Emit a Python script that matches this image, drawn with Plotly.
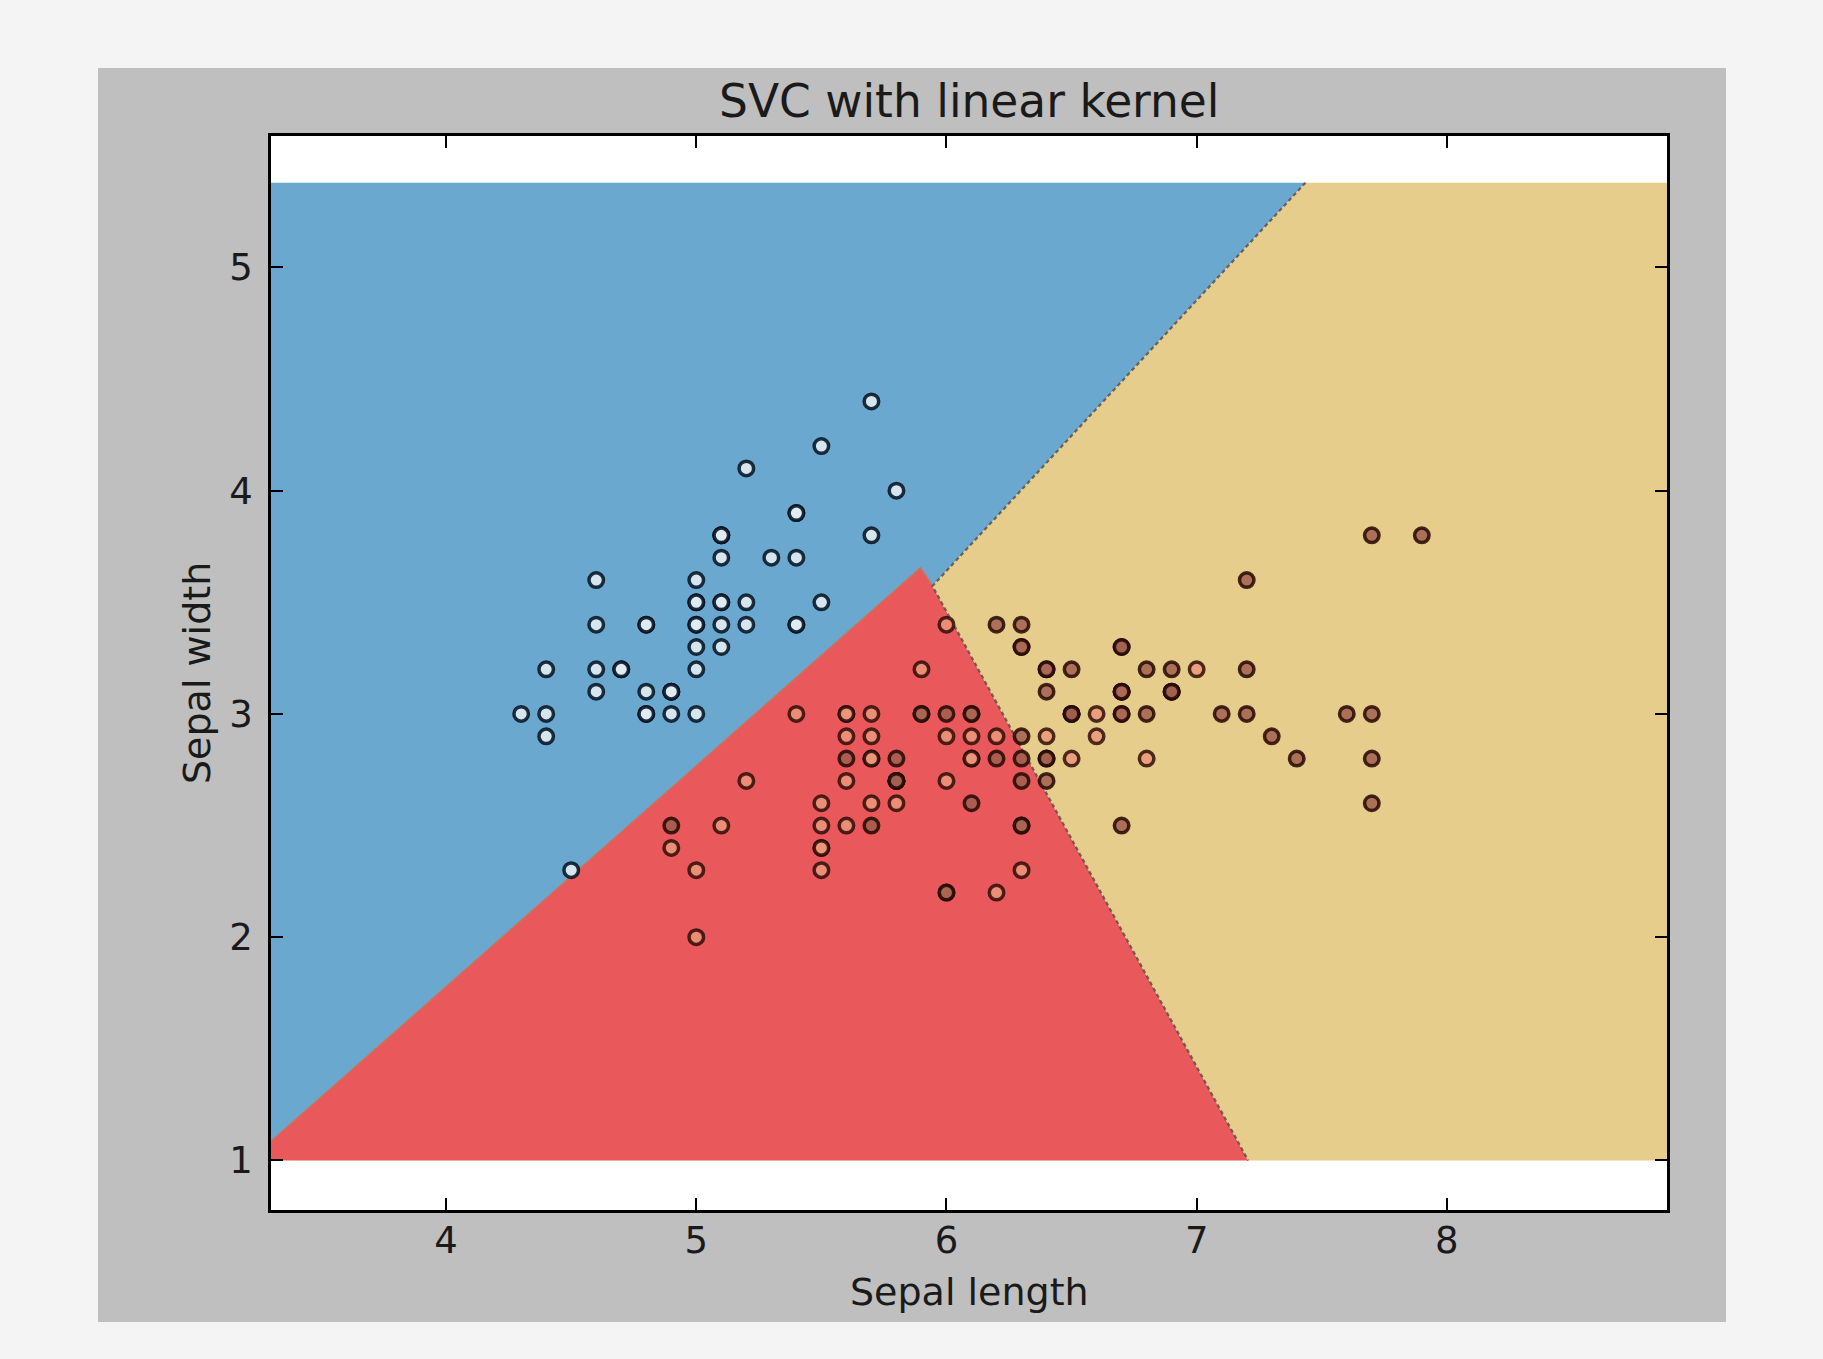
import plotly.graph_objects as go

# ---- Iris measurements (sepal length, sepal width) per species ----
setosa_length = [5.1, 4.9, 4.7, 4.6, 5.0, 5.4, 4.6, 5.0, 4.4, 4.9, 5.4, 4.8, 4.8, 4.3, 5.8,
                 5.7, 5.4, 5.1, 5.7, 5.1, 5.4, 5.1, 4.6, 5.1, 4.8, 5.0, 5.0, 5.2, 5.2, 4.7,
                 4.8, 5.4, 5.2, 5.5, 4.9, 5.0, 5.5, 4.9, 4.4, 5.1, 5.0, 4.5, 4.4, 5.0, 5.1,
                 4.8, 5.1, 4.6, 5.3, 5.0]
setosa_width = [3.5, 3.0, 3.2, 3.1, 3.6, 3.9, 3.4, 3.4, 2.9, 3.1, 3.7, 3.4, 3.0, 3.0, 4.0,
                4.4, 3.9, 3.5, 3.8, 3.8, 3.4, 3.7, 3.6, 3.3, 3.4, 3.0, 3.4, 3.5, 3.4, 3.2,
                3.1, 3.4, 4.1, 4.2, 3.1, 3.2, 3.5, 3.1, 3.0, 3.4, 3.5, 2.3, 3.2, 3.5, 3.8,
                3.0, 3.8, 3.2, 3.7, 3.3]

versicolor_length = [7.0, 6.4, 6.9, 5.5, 6.5, 5.7, 6.3, 4.9, 6.6, 5.2, 5.0, 5.9, 6.0, 6.1, 5.6,
                     6.7, 5.6, 5.8, 6.2, 5.6, 5.9, 6.1, 6.3, 6.1, 6.4, 6.6, 6.8, 6.7, 6.0, 5.7,
                     5.5, 5.5, 5.8, 6.0, 5.4, 6.0, 6.7, 6.3, 5.6, 5.5, 5.5, 6.1, 5.8, 5.0, 5.6,
                     5.7, 5.7, 6.2, 5.1, 5.7]
versicolor_width = [3.2, 3.2, 3.1, 2.3, 2.8, 2.8, 3.3, 2.4, 2.9, 2.7, 2.0, 3.0, 2.2, 2.9, 2.9,
                    3.1, 3.0, 2.7, 2.2, 2.5, 3.2, 2.8, 2.5, 2.8, 2.9, 3.0, 2.8, 3.0, 2.9, 2.6,
                    2.4, 2.4, 2.7, 2.7, 3.0, 3.4, 3.1, 2.3, 3.0, 2.5, 2.6, 3.0, 2.6, 2.3, 2.7,
                    3.0, 2.9, 2.9, 2.5, 2.8]

virginica_length = [6.3, 5.8, 7.1, 6.3, 6.5, 7.6, 4.9, 7.3, 6.7, 7.2, 6.5, 6.4, 6.8, 5.7, 5.8,
                    6.4, 6.5, 7.7, 7.7, 6.0, 6.9, 5.6, 7.7, 6.3, 6.7, 7.2, 6.2, 6.1, 6.4, 7.2,
                    7.4, 7.9, 6.4, 6.3, 6.1, 7.7, 6.3, 6.4, 6.0, 6.9, 6.7, 6.9, 5.8, 6.8, 6.7,
                    6.7, 6.3, 6.5, 6.2, 5.9]
virginica_width = [3.3, 2.7, 3.0, 2.9, 3.0, 3.0, 2.5, 2.9, 2.5, 3.6, 3.2, 2.7, 3.0, 2.5, 2.8,
                   3.2, 3.0, 3.8, 2.6, 2.2, 3.2, 2.8, 2.8, 2.7, 3.3, 3.2, 2.8, 3.0, 2.8, 3.0,
                   2.8, 3.8, 2.8, 2.8, 2.6, 3.0, 3.4, 3.1, 3.0, 3.1, 3.1, 3.1, 2.7, 3.2, 3.3,
                   3.0, 2.5, 3.0, 3.4, 3.0]

# ---- Mesh extent and decision-region vertices (data units) ----
mesh_x = [3.3, 8.88]
mesh_y = [1.0, 5.38]
left_cut_y = 1.085            # setosa / versicolor boundary at the left edge
apex = (5.896, 3.653)         # tip of the versicolor region
junction = (5.944, 3.573)     # meeting point of the three regions
top_cut_x = 7.435             # setosa / virginica boundary at the top edge
bottom_cut_x = 7.206          # versicolor / virginica boundary at the bottom edge

x_ticks = [4, 5, 6, 7, 8]
y_ticks = [1, 2, 3, 4, 5]
x_range = [3.3, 8.88]
y_range = [0.778, 5.589]

title_text = "SVC with linear kernel"
x_title = "Sepal length"
y_title = "Sepal width"

# ---- Styling ----
W, H = 1823, 1359
ML, MR, MT, MB = 271, 156, 136, 149
FONT = "DejaVu Sans"
TEXT_COLOR = "#1a1a1a"
OUTER_BG = "#f4f4f4"
FIG_BG = "#bfbfbf"
BLUE, RED, SAND = "#6ba8cf", "#e9585a", "#e6cd8b"

x0, x1 = mesh_x
y0, y1 = mesh_y

regions = [
    (BLUE, [x0, apex[0], junction[0], top_cut_x, x0, x0],
           [left_cut_y, apex[1], junction[1], y1, y1, left_cut_y]),
    (RED, [x0, x0, apex[0], junction[0], bottom_cut_x, x0],
          [y0, left_cut_y, apex[1], junction[1], y0, y0]),
    (SAND, [junction[0], top_cut_x, x1, x1, bottom_cut_x, junction[0]],
           [junction[1], y1, y1, y0, y0, junction[1]]),
]

fig = go.Figure()

for color, xs, ys in regions:
    fig.add_trace(go.Scatter(x=xs, y=ys, mode="lines", fill="toself",
                             fillcolor=color, line=dict(width=0, color=color),
                             hoverinfo="skip", showlegend=False))

# thin contour edges between the regions
fig.add_trace(go.Scatter(x=[x0, apex[0], junction[0]], y=[left_cut_y, apex[1], junction[1]],
                         mode="lines", line=dict(color="rgba(214,105,80,0.9)", width=1.8),
                         hoverinfo="skip", showlegend=False))
fig.add_trace(go.Scatter(x=[top_cut_x, junction[0], bottom_cut_x], y=[y1, junction[1], y0],
                         mode="lines", line=dict(color="rgba(90,70,62,0.8)", width=2.2, dash="4px,3px"),
                         hoverinfo="skip", showlegend=False))

# the samples
species = [
    (setosa_length, setosa_width, "rgba(222,236,242,0.92)", "rgba(5,20,35,0.88)"),
    (versicolor_length, versicolor_width, "rgba(236,150,122,0.85)", "rgba(40,8,4,0.82)"),
    (virginica_length, virginica_width, "rgba(160,95,78,0.85)", "rgba(35,8,2,0.85)"),
]
for xs, ys, fillc, edgec in species:
    fig.add_trace(go.Scatter(x=xs, y=ys, mode="markers",
                             marker=dict(size=14.5, color=fillc, line=dict(color=edgec, width=3.5)),
                             hoverinfo="skip", showlegend=False))

# figure panel behind the axes
pw = W - ML - MR
ph = H - MT - MB
gx0, gx1, gy0, gy1 = 98, 1726, 68, 1322
fig.add_shape(type="rect", xref="paper", yref="paper", layer="below",
              x0=(gx0 - ML) / pw, x1=(gx1 - ML) / pw,
              y0=(H - MB - gy1) / ph, y1=(H - MB - gy0) / ph,
              fillcolor=FIG_BG, line=dict(width=0))
fig.add_shape(type="rect", xref="paper", yref="paper", layer="below",
              x0=0, x1=1, y0=0, y1=1, fillcolor="white", line=dict(width=0))

axis_common = dict(
    showgrid=False, zeroline=False, showline=True, linecolor="black", linewidth=2.5,
    mirror="ticks", ticks="inside", ticklen=12, tickwidth=1.5, tickcolor="black",
    tickfont=dict(family=FONT, size=37, color=TEXT_COLOR),
)
fig.update_xaxes(range=x_range, tickvals=x_ticks, ticktext=[str(v) for v in x_ticks],
                 ticklabelstandoff=-4, **axis_common)
fig.update_yaxes(range=y_range, tickvals=y_ticks, ticktext=[str(v) for v in y_ticks],
                 ticklabelstandoff=8, **axis_common)

fig.add_annotation(text=title_text, xref="paper", yref="paper", x=0.5, y=1,
                   yanchor="bottom", yshift=6, showarrow=False,
                   font=dict(family=FONT, size=45.5, color=TEXT_COLOR))
fig.add_annotation(text=x_title, xref="paper", yref="paper", x=0.5, y=0,
                   yanchor="top", yshift=-58, showarrow=False,
                   font=dict(family=FONT, size=38, color=TEXT_COLOR))
fig.add_annotation(text=y_title, xref="paper", yref="paper", x=0, y=0.5,
                   xanchor="right", xshift=-50, textangle=-90, showarrow=False,
                   font=dict(family=FONT, size=38, color=TEXT_COLOR))

fig.update_layout(
    width=W, height=H,
    margin=dict(l=ML, r=MR, t=MT, b=MB, pad=0),
    paper_bgcolor=OUTER_BG, plot_bgcolor="white",
    showlegend=False,
)

fig.write_html("out.html")
